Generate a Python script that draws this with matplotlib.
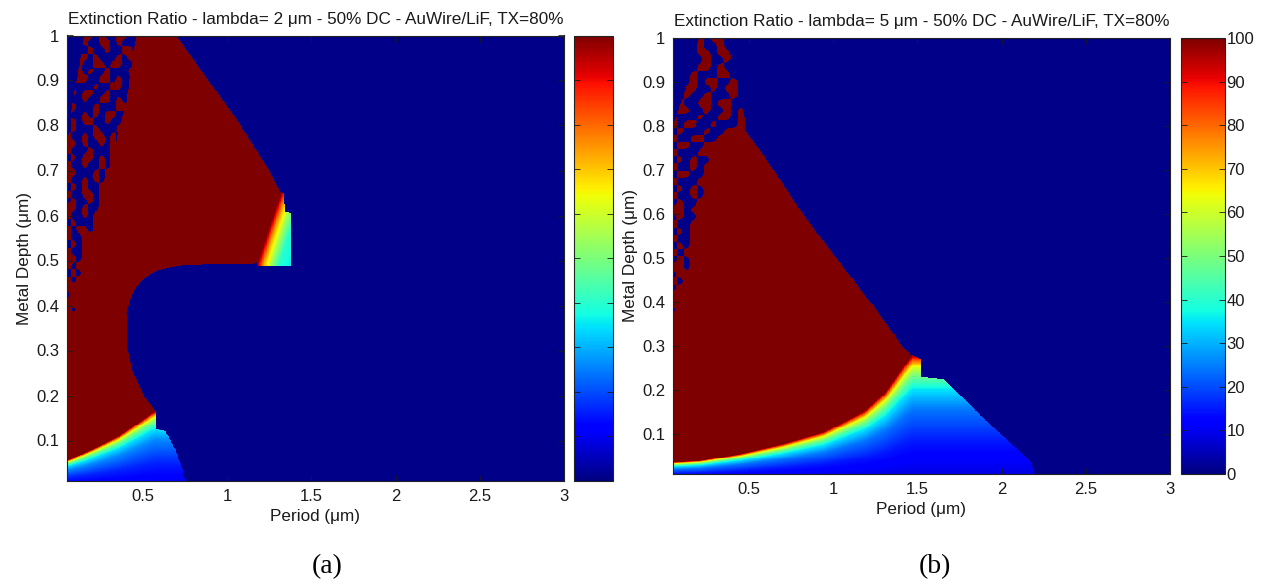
import numpy as np
import matplotlib
matplotlib.use("Agg")
import matplotlib.pyplot as plt

# ---------------- shared axis data ----------------
x_range = (0.05, 3.0)
y_range = (0.01, 1.0)
period_ticks = [0.5, 1, 1.5, 2, 2.5, 3]
period_labels = ["0.5", "1", "1.5", "2", "2.5", "3"]
depth_ticks = [0.1, 0.2, 0.3, 0.4, 0.5, 0.6, 0.7, 0.8, 0.9, 1.0]
depth_labels = ["0.1", "0.2", "0.3", "0.4", "0.5", "0.6", "0.7", "0.8", "0.9", "1"]
cbar_ticks = [0, 10, 20, 30, 40, 50, 60, 70, 80, 90, 100]
cbar_labels = ["0", "10", "20", "30", "40", "50", "60", "70", "80", "90", "100"]
low_value = 1.0
high_value = 100.0

# ---------------- panel (a): lambda = 2 um ----------------
a_title = "Extinction Ratio - lambda= 2 \u03bcm - 50% DC - AuWire/LiF, TX=80%"
a_red_right_y = [0.493, 0.55, 0.60, 0.65, 0.70, 0.80, 0.90, 1.00]
a_red_right_x = [1.18, 1.23, 1.275, 1.32, 1.25, 1.08, 0.89, 0.70]
a_red_bottom_x = [0.05, 0.15, 0.24, 0.355, 0.47, 0.55, 0.575]
a_red_bottom_y = [0.055, 0.07, 0.086, 0.108, 0.138, 0.16, 0.165]
a_bite_y = [0.165, 0.196, 0.25, 0.307, 0.383, 0.42, 0.442, 0.464, 0.478, 0.486, 0.49, 0.493]
a_bite_x = [0.575, 0.51, 0.44, 0.405, 0.40, 0.43, 0.46, 0.52, 0.59, 0.684, 0.754, 1.18]
a_low_edge_y = [0.01, 0.04, 0.08, 0.12, 0.124, 0.17]
a_low_edge_x = [0.75, 0.73, 0.69, 0.63, 0.575, 0.575]
a_low_r = [0.0, 0.3, 0.6, 0.75, 0.85, 0.92, 0.97, 1.0]
a_low_v = [10, 16, 26, 35, 48, 62, 82, 100]
a_patch_y = [0.488, 0.605, 0.606, 0.65]
a_patch_right = [1.376, 1.376, 1.346, 1.335]
a_patch_dx = [0.0, 0.035, 0.07, 0.105, 0.13, 0.2]
a_patch_v = [100, 75, 60, 48, 40, 36]
a_band_y = [0.37, 0.45, 0.55, 0.65, 0.75, 0.85, 0.95, 1.00]
a_band_left = [0.05, 0.05, 0.05, 0.05, 0.05, 0.08, 0.13, 0.15]
a_band_right = [0.08, 0.14, 0.22, 0.27, 0.33, 0.40, 0.44, 0.46]
# speckle cells: columns from x=0.05 step 0.034, rows from y=1.0 step 0.016
a_speckle_origin = (0.05, 1.0)
a_speckle_step = (0.034, 0.016)
a_speckle = [
    "...##.#..##...",
    "...#..##.#....",
    "....#..#..##..",
    "..##.#...#.#..",
    "..#..##.##..#.",
    "..#.#..#...##.",
    "..##..##.#..#.",
    ".#...#..##..#.",
    ".#.##..#...##.",
    "#..#..##.#..#.",
    "##...#...##.#.",
    "#..#.#.##...#.",
    ".#.##..#..#.#.",
    ".#...#...##...",
    "#..#.##.#...#.",
    "##.#..#.#.#.##",
    "#...#...#.####",
    ".#.##.#.######",
    "#..#..#.######",
    "##...#.#######",
    "#..#.#.#######",
    ".#.#..########",
    "#..##.########",
    ".#..#.########",
    "##.#..########",
    "#..#.#########",
    ".#...#########",
    "#.##.#########",
    "#..###########",
    ".#.###########",
    "#..###########",
    "##.###########",
    "#.############",
    ".#.###########",
    "#.############",
    "##############",
    ".#############",
    "##############",
    "#.############",
    "##############",
]

# ---------------- panel (b): lambda = 5 um ----------------
b_title = "Extinction Ratio - lambda= 5 \u03bcm - 50% DC - AuWire/LiF, TX=80%"
b_red_top = 0.80
b_red_right_y = [0.277, 0.30, 0.38, 0.45, 0.50, 0.60, 0.71, 0.80]
b_red_right_x = [1.47, 1.41, 1.26, 1.12, 1.02, 0.82, 0.63, 0.46]
b_red_bottom_x = [0.05, 0.21, 0.45, 0.70, 0.945, 1.19, 1.31, 1.43, 1.47]
b_red_bottom_y = [0.035, 0.039, 0.055, 0.077, 0.104, 0.153, 0.195, 0.26, 0.28]
b_low_edge_y = [0.01, 0.039, 0.126, 0.209, 0.2245, 0.23, 0.27, 0.28]
b_low_edge_x = [2.20, 2.17, 1.92, 1.70, 1.655, 1.52, 1.52, 1.47]
b_low_r = [0.0, 0.3, 0.55, 0.72, 0.82, 0.9, 0.96, 1.0]
b_low_v = [8, 15, 24, 35, 48, 62, 82, 100]
b_band_y = [0.35, 0.45, 0.50, 0.60, 0.70, 0.80, 0.85, 0.90, 1.00]
b_band_left = [0.05, 0.05, 0.05, 0.05, 0.05, 0.05, 0.09, 0.14, 0.20]
b_band_right = [0.07, 0.16, 0.21, 0.29, 0.34, 0.48, 0.46, 0.43, 0.36]
# speckle cells: columns from x=0.05 step 0.04, rows from y=1.0 step 0.01625
b_speckle_origin = (0.05, 1.0)
b_speckle_step = (0.04, 0.01625)
b_speckle = [
    "....#.##....",
    "....#..#....",
    "....##.##...",
    ".....#..#...",
    "....##.#....",
    "...#...##...",
    "...#.##..#..",
    "..##..#.##..",
    "..#..#...#..",
    ".#..##.##...",
    ".##..#..#.#.",
    "#...#..##.#.",
    "#.##..#...##",
    ".#...#..####",
    "#..##..#####",
    ".##..#######",
    "#...########",
    ".#.#..######",
    "#..#.#######",
    ".##..#######",
    "#...########",
    ".#.#.#######",
    "#..#.#######",
    ".#..########",
    "##.#########",
    ".#..########",
    "#..#########",
    ".#.#########",
    "#..#########",
    ".#.#########",
    "#.##########",
    ".#.#########",
    "##.#########",
    ".###########",
    "#.##########",
    ".###########",
    "############",
    "############",
    ".###########",
    "############",
    "############",
]

# ---------------- field construction ----------------
NX, NY = 700, 450
xg = np.linspace(x_range[0], x_range[1], NX)
yg = np.linspace(y_range[0], y_range[1], NY)
X, Y = np.meshgrid(xg, yg)


def gauss_kernel(sigma):
    n = int(np.ceil(3 * sigma))
    t = np.arange(-n, n + 1)
    k = np.exp(-0.5 * (t / sigma) ** 2)
    return k / k.sum()


def sample_pattern(pattern, origin, step):
    P = np.array([[1.0 if c == "#" else 0.0 for c in row] for row in pattern])
    nr, nc = P.shape
    ci = np.clip(np.round((X - origin[0]) / step[0]).astype(int), 0, nc - 1)
    ri = np.clip(np.round((origin[1] - Y) / step[1]).astype(int), 0, nr - 1)
    S = P[ri, ci]
    sx = 0.42 * step[0] / (xg[1] - xg[0])
    sy = 0.42 * step[1] / (yg[1] - yg[0])
    kx, ky = gauss_kernel(sx), gauss_kernel(sy)
    px, py = len(kx) // 2, len(ky) // 2
    S = np.pad(S, ((py, py), (px, px)), mode="edge")
    S = np.apply_along_axis(lambda r: np.convolve(r, kx, mode="same"), 1, S)
    S = np.apply_along_axis(lambda c: np.convolve(c, ky, mode="same"), 0, S)
    return S[py:-py, px:-px]


def apply_speckle(Z, pattern, origin, step, band_y, band_left, band_right):
    left = np.interp(Y, band_y, band_left)
    right = np.interp(Y, band_y, band_right)
    inside = (Y >= band_y[0]) & (X >= left) & (X < right)
    s = sample_pattern(pattern, origin, step)
    Z = np.where(inside, np.where(s > 0.5, high_value, low_value), Z)
    Z = np.where((Y >= band_y[0]) & (X < left), low_value, Z)
    return Z


def field_a():
    Z = np.full(X.shape, low_value)
    xr = np.interp(Y, a_red_right_y, a_red_right_x)
    yb = np.interp(X, a_red_bottom_x, a_red_bottom_y)
    xb = np.interp(Y, a_bite_y, a_bite_x)
    upper = (Y >= 0.493) & (X < xr)
    middle = (Y < 0.493) & (Y >= yb) & (X < xb)
    Z[upper | middle] = high_value
    xl = np.interp(Y, a_low_edge_y, a_low_edge_x)
    low = (Y < yb) & (X < xl)
    Z = np.where(low, np.interp(Y / yb, a_low_r, a_low_v), Z)
    pr = np.interp(Y, a_patch_y, a_patch_right)
    patch = (Y >= 0.488) & (Y <= 0.65) & (X >= xr) & (X < pr)
    Z = np.where(patch, np.interp(X - xr, a_patch_dx, a_patch_v), Z)
    Z = apply_speckle(Z, a_speckle, a_speckle_origin, a_speckle_step,
                      a_band_y, a_band_left, a_band_right)
    return Z


def field_b():
    Z = np.full(X.shape, low_value)
    xr = np.interp(Y, b_red_right_y, b_red_right_x)
    yb = np.interp(X, b_red_bottom_x, b_red_bottom_y)
    red = (Y < b_red_top) & (X < xr) & (Y >= yb)
    Z[red] = high_value
    xl = np.interp(Y, b_low_edge_y, b_low_edge_x)
    low = (Y < yb) & (X < xl)
    Z = np.where(low, np.interp(Y / yb, b_low_r, b_low_v), Z)
    Z = apply_speckle(Z, b_speckle, b_speckle_origin, b_speckle_step,
                      b_band_y, b_band_left, b_band_right)
    return Z


# ---------------- figure ----------------
W, H = 1261, 584
fig = plt.figure(figsize=(W / 100, H / 100), dpi=100)
fig.patch.set_facecolor("white")
font = ["Liberation Sans", "DejaVu Sans"]
serif = ["Liberation Serif", "DejaVu Serif"]
txt_color = "#1a1a1a"
fs_title = 12.3
fs = 12


def style_axes(ax, title):
    ax.set_xlim(*x_range)
    ax.set_ylim(*y_range)
    ax.set_xticks(period_ticks)
    ax.set_xticklabels(period_labels, fontfamily=font, fontsize=fs, color=txt_color)
    ax.set_yticks(depth_ticks)
    ax.set_yticklabels(depth_labels, fontfamily=font, fontsize=fs, color=txt_color)
    ax.tick_params(direction="in", length=4, width=0.6, top=True, right=True,
                   colors=txt_color)
    ax.tick_params(axis="x", pad=6)
    ax.tick_params(axis="y", pad=5.5)
    for s in ax.spines.values():
        s.set_linewidth(0.8)
        s.set_color("#222222")
    ax.set_title(title, fontfamily=font, fontsize=fs_title, color=txt_color, pad=8.5)
    ax.set_xlabel("Period (\u03bcm)", fontfamily=font, fontsize=fs_title,
                  color=txt_color, labelpad=3.5)
    ax.set_ylabel("Metal Depth (\u03bcm)", fontfamily=font, fontsize=fs_title,
                  color=txt_color, labelpad=3)


def style_cbar(cax, im, show_labels):
    cb = fig.colorbar(im, cax=cax, ticks=cbar_ticks)
    cb.outline.set_linewidth(0.8)
    cb.outline.set_edgecolor("#222222")
    cax.tick_params(direction="in", length=4, width=0.6, left=True, right=True,
                    pad=1, colors=txt_color)
    if show_labels:
        cax.set_yticklabels(cbar_labels, fontfamily=font, fontsize=fs, color=txt_color)
    else:
        cax.set_yticklabels([])
    return cb


extent = [x_range[0], x_range[1], y_range[0], y_range[1]]

axA = fig.add_axes([67 / W, 1 - 481 / H, 497 / W, 445.5 / H])
imA = axA.imshow(field_a(), origin="lower", extent=extent, aspect="auto",
                 cmap="jet", vmin=0, vmax=100, interpolation="nearest")
style_axes(axA, a_title)
caxA = fig.add_axes([574 / W, 1 - 481 / H, 39 / W, 445.5 / H])
style_cbar(caxA, imA, False)

axB = fig.add_axes([673 / W, 1 - 474 / H, 497 / W, 436 / H])
imB = axB.imshow(field_b(), origin="lower", extent=extent, aspect="auto",
                 cmap="jet", vmin=0, vmax=100, interpolation="nearest")
style_axes(axB, b_title)
caxB = fig.add_axes([1181 / W, 1 - 474 / H, 44 / W, 436 / H])
style_cbar(caxB, imB, True)

fig.text(327 / W, 1 - 567 / H, "(a)", ha="center", va="center",
         fontfamily=serif, fontsize=20, color="black")
fig.text(935 / W, 1 - 567 / H, "(b)", ha="center", va="center",
         fontfamily=serif, fontsize=20, color="black")

fig.savefig("out.png", dpi=100)
